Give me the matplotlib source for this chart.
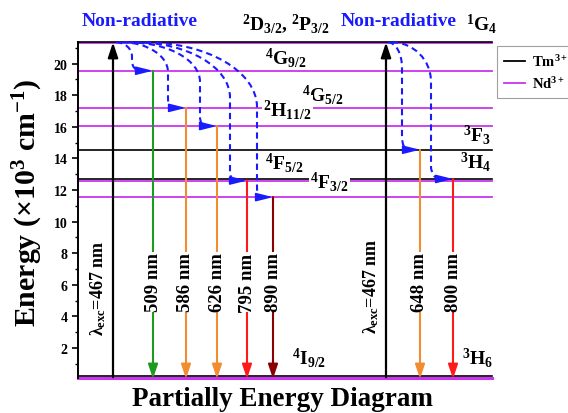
import matplotlib
matplotlib.use('Agg')
import matplotlib.pyplot as plt
from matplotlib.path import Path
from matplotlib.patches import PathPatch, FancyArrowPatch
from matplotlib.lines import Line2D

plt.rcParams['font.family'] = ['Liberation Serif', 'DejaVu Serif']
plt.rcParams['font.weight'] = 'bold'
plt.rcParams['mathtext.fontset'] = 'custom'
plt.rcParams['mathtext.rm'] = 'Liberation Serif:bold'
plt.rcParams['mathtext.it'] = 'Liberation Serif:bold'
plt.rcParams['mathtext.bf'] = 'Liberation Serif:bold'
plt.rcParams['mathtext.sf'] = 'Liberation Serif'
plt.rcParams['mathtext.default'] = 'regular'

# ---- data (energies in 10^3 cm^-1) ----
tm_levels = [0.2, 12.7, 14.55, 21.35]            # 3H6, 3H4, 3F3, 1G4
nd_levels = [0.12, 11.55, 12.6, 16.05, 17.2, 19.55, 21.3]
ground = 0.05

excitation_x = [113, 386]
excitation_labels = [r'$\mathsf{\lambda_{exc}}$=467 nm', r'$\mathsf{\lambda_{exc}}$=467 nm']

emis_x = [153, 186, 217, 247, 273, 420, 453]
emis_from = [19.55, 17.2, 16.05, 12.6, 11.55, 14.55, 12.7]
emis_labels = ['509 nm', '586 nm', '626 nm', '795 nm', '890 nm', '648 nm', '800 nm']
emis_colors = ['#1e9a1e', '#f28c30', '#f28c30', '#ff1a1a', '#8b0000', '#f28c30', '#ff1a1a']

# non-radiative curve shapes: start x, vertical x, top drop, bottom bend, bend width
nr_start = [116, 122, 128, 135, 145, 388, 392]
nr_vert = [132, 168, 200, 230, 257, 402, 431]
nr_drop = [0.9, 1.9, 2.5, 3.5, 4.1, 1.6, 2.5]
nr_bend = [0.6, 0.6, 0.6, 0.6, 0.6, 0.8, 0.8]
nr_bw = [8, 5, 5, 5, 5, 6, 9]
top_level = 21.35

TM = 'black'
ND = '#cc33ee'
BLUE = '#1a1aff'

fig = plt.figure(figsize=(5.68, 4.14), dpi=100)
ax = fig.add_axes([78/568, 1-379/414, (492-78)/568, (379-43)/414])
ax.set_xlim(78, 492)
ax.set_ylim(0.1, 21.37)

for e in nd_levels:
    ax.axhline(e, color=ND, lw=2.2 if e < 1 else 1.3, clip_on=False, zorder=1)
for e in tm_levels:
    ax.axhline(e, color=TM, lw=1.2, clip_on=False, zorder=1.5)

# excitation arrows
for x, lab in zip(excitation_x, excitation_labels):
    ax.annotate('', xy=(x, top_level), xytext=(x, ground + 0.1),
                arrowprops=dict(arrowstyle='-|>,head_length=0.9,head_width=0.3',
                                mutation_scale=10, color='black', lw=1.6,
                                shrinkA=0, shrinkB=0), annotation_clip=False, zorder=3)

ax.text(98, 5.86, excitation_labels[0], rotation=90, ha='center', va='center', fontsize=13)
ax.text(371, 5.98, excitation_labels[1], rotation=90, ha='center', va='center', fontsize=13)

# emission arrows
for x, e, lab, c in zip(emis_x, emis_from, emis_labels, emis_colors):
    ax.annotate('', xy=(x, ground), xytext=(x, e),
                arrowprops=dict(arrowstyle='-|>,head_length=0.86,head_width=0.29',
                                mutation_scale=10, color=c, lw=1.5,
                                shrinkA=0, shrinkB=0), annotation_clip=False, zorder=3)
    ax.text(x, 6.18, lab, rotation=90, ha='center', va='center', fontsize=13.5,
            bbox=dict(facecolor='white', edgecolor='none', pad=0.5), zorder=4)

# non-radiative dashed curves
K = 0.5523
for xs, xv, a, b, c, xe, ye in zip(nr_start, nr_vert, nr_drop, nr_bend, nr_bw, emis_x, emis_from):
    verts = [(xs, top_level),
             (xs + K*(xv-xs), top_level), (xv, top_level - a + K*a), (xv, top_level - a),
             (xv, ye + b),
             (xv, ye + b - K*b), (xv + c - K*c, ye), (xv + c, ye)]
    codes = [Path.MOVETO, Path.CURVE4, Path.CURVE4, Path.CURVE4, Path.LINETO,
             Path.CURVE4, Path.CURVE4, Path.CURVE4]
    ax.add_patch(PathPatch(Path(verts, codes), facecolor='none', edgecolor=BLUE,
                           lw=1.5, ls=(0, (3, 2)), zorder=5, clip_on=False))
    ax.add_patch(FancyArrowPatch((xv + c, ye), (xe, ye),
                                 arrowstyle='-|>,head_length=1.0,head_width=0.25',
                                 mutation_scale=10, color=BLUE, lw=1.2,
                                 shrinkA=0, shrinkB=0, zorder=6, clip_on=False))

# level labels
lab_kw = dict(ha='left', va='center', fontsize=14)
ax.text(82, 22.72, 'Non-radiative', color=BLUE, **lab_kw)
ax.text(341, 22.72, 'Non-radiative', color=BLUE, **lab_kw)
ax.text(242, 22.55, r'$^{2}$D$_{3/2}$, $^{2}$P$_{3/2}$', **lab_kw)
ax.text(466, 22.55, r'$^{1}$G$_{4}$', **lab_kw)
ax.text(265, 20.42, r'$^{4}$G$_{9/2}$', **lab_kw)
ax.text(302, 18.05, r'$^{4}$G$_{5/2}$', **lab_kw)
ax.text(263, 17.15, r'$^{2}$H$_{11/2}$', bbox=dict(facecolor='white', edgecolor='none', pad=1), zorder=4, **lab_kw)
ax.text(265, 13.77, r'$^{4}$F$_{5/2}$', **lab_kw)
ax.text(310, 12.56, r'$^{4}$F$_{3/2}$', bbox=dict(facecolor='white', edgecolor='none', pad=1), zorder=4, **lab_kw)
ax.text(463, 15.54, r'$^{3}$F$_{3}$', **lab_kw)
ax.text(460, 13.84, r'$^{3}$H$_{4}$', **lab_kw)
ax.text(292, 1.41, r'$^{4}$I$_{9/2}$', **lab_kw)
ax.text(462, 1.41, r'$^{3}$H$_{6}$', **lab_kw)

# axes styling
for s in ['top', 'right', 'bottom']:
    ax.spines[s].set_visible(False)
ax.spines['left'].set_linewidth(1.4)
ax.set_xticks([])
ax.set_yticks(range(2, 21, 2))
ax.set_yticks(range(1, 22, 2), minor=True)
ax.tick_params(axis='y', which='major', direction='out', length=4, width=1.2, labelsize=10)
ax.tick_params(axis='y', which='minor', direction='out', length=2.5, width=1.0)
for t in ax.get_yticklabels():
    t.set_fontweight('bold')

fig.text(28/568, 1-203/414, r'Energy (×10$^{3}$ cm$^{-1}$)', rotation=90,
         ha='center', va='center', fontsize=21.5)
fig.text(282/568, 1-400/414, 'Partially Energy Diagram', ha='center', va='center', fontsize=19.5)

handles = [Line2D([], [], color=TM, lw=1.3), Line2D([], [], color=ND, lw=1.3)]
leg = fig.legend(handles, [r'Tm$^{3+}$', r'Nd$^{3+}$'], loc='upper left',
                 bbox_to_anchor=(497/568, 1-47/414), frameon=True, fancybox=False,
                 edgecolor='#888888', fontsize=10.5, handlelength=1.4,
                 borderaxespad=0, borderpad=0.5, labelspacing=0.4, handletextpad=0.5)
leg.get_frame().set_linewidth(0.8)

fig.savefig('out.png', dpi=100)
